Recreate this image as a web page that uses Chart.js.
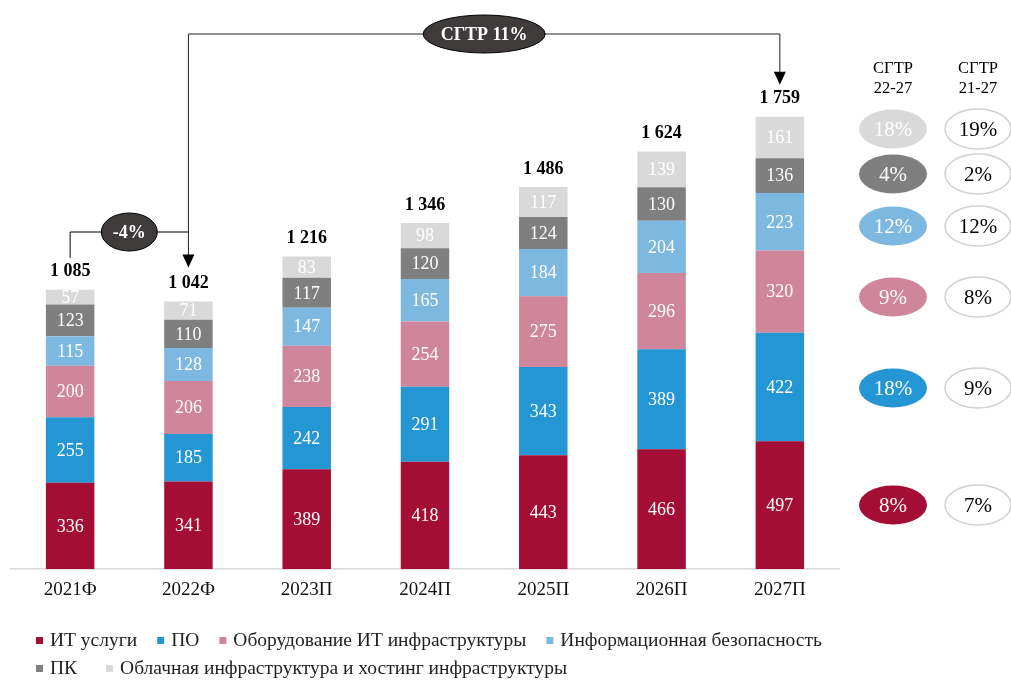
<!DOCTYPE html>
<html><head><meta charset="utf-8">
<script src="https://cdn.jsdelivr.net/npm/chart.js@4/dist/chart.umd.min.js"></script>
<style>html,body{margin:0;padding:0;background:#fff}#wrap{width:1011px;height:682px;position:relative}</style>
</head><body><div id="wrap"><canvas id="c" width="1011" height="682"></canvas></div>
<script>
const categories = ['2021Ф','2022Ф','2023П','2024П','2025П','2026П','2027П'];
const seriesNames = ['ИТ услуги','ПО','Оборудование ИТ инфраструктуры','Информационная безопасность','ПК','Облачная инфраструктура и хостинг инфраструктуры'];
const itServices = [336,341,389,418,443,466,497];
const software = [255,185,242,291,343,389,422];
const hardware = [200,206,238,254,275,296,320];
const infoSec = [115,128,147,165,184,204,223];
const pc = [123,110,117,120,124,130,136];
const cloud = [57,71,83,98,117,139,161];
const totals = [1085,1042,1216,1346,1486,1624,1759];
const cagr2227 = ['8%','18%','9%','12%','4%','18%'];
const cagr2127 = ['7%','9%','8%','12%','2%','19%'];
const cagrHeader = ['СГТР','22-27','21-27'];
const cagrTotal = 'СГТР 11%';
const change2122 = '-4%';

const colors = ['#A50E34','#2596D4','#D0869A','#7DB8E0','#7F7F7F','#D9D9D9'];
const seriesData = [itServices, software, hardware, infoSec, pc, cloud];
const cagrY = [505, 388, 297, 226, 174, 129];
const FONT = '"Liberation Serif", "Times New Roman", serif';

function fmt(n){ return String(n).replace(/\B(?=(\d{3})+(?!\d))/g, ' '); }

function ellipse(ctx, cx, cy, rx, ry, fill, stroke, lw){
  ctx.beginPath();
  ctx.ellipse(cx, cy, rx, ry, 0, 0, Math.PI*2);
  if (fill){ ctx.fillStyle = fill; ctx.fill(); }
  if (stroke){ ctx.strokeStyle = stroke; ctx.lineWidth = lw || 1; ctx.stroke(); }
}
function arrowDown(ctx, x, tipY){
  ctx.beginPath();
  ctx.moveTo(x, tipY);
  ctx.lineTo(x-6, tipY-13);
  ctx.lineTo(x+6, tipY-13);
  ctx.closePath();
  ctx.fillStyle = '#000';
  ctx.fill();
}

const overlay = {
  id: 'overlay',
  afterDatasetsDraw(chart){
    const ctx = chart.ctx;
    ctx.save();
    ctx.textAlign = 'center';
    ctx.textBaseline = 'middle';
    ctx.font = '18px ' + FONT;
    ctx.fillStyle = '#fff';
    chart.data.datasets.forEach((ds, di) => {
      const meta = chart.getDatasetMeta(di);
      meta.data.forEach((el, i) => {
        const y = (el.y + el.base) / 2;
        ctx.fillText(String(ds.data[i]), el.x, y + 1);
      });
    });
    const topMeta = chart.getDatasetMeta(chart.data.datasets.length - 1);
    const labelY = [];
    ctx.font = 'bold 18px ' + FONT;
    ctx.fillStyle = '#000';
    topMeta.data.forEach((el, i) => {
      const y = el.y - 18;
      labelY.push(y);
      ctx.fillText(fmt(totals[i]), el.x, y);
    });
    const xs = topMeta.data.map(e => e.x);
    const x0 = xs[0], x1 = xs[1], x6 = xs[xs.length-1];
    const topY = 34;
    ctx.strokeStyle = '#222';
    ctx.lineWidth = 1;
    ctx.beginPath();
    ctx.moveTo(x1, labelY[1] - 28);
    ctx.lineTo(x1, topY);
    ctx.lineTo(x6, topY);
    ctx.lineTo(x6, labelY[6] - 26);
    ctx.stroke();
    arrowDown(ctx, x1, labelY[1] - 16);
    arrowDown(ctx, x6, labelY[6] - 14);
    ellipse(ctx, (x1 + x6)/2, topY, 61, 19, '#3f3b3b', '#000', 1);
    ctx.font = 'bold 18px ' + FONT;
    ctx.fillStyle = '#fff';
    ctx.fillText(cagrTotal, (x1 + x6)/2, topY + 1);
    const midY = 232;
    ctx.beginPath();
    ctx.moveTo(x0, labelY[0] - 14);
    ctx.lineTo(x0, midY);
    ctx.lineTo(x1, midY);
    ctx.stroke();
    ellipse(ctx, (x0 + x1)/2, midY, 28, 19, '#3f3b3b', '#000', 1);
    ctx.font = 'bold 18px ' + FONT;
    ctx.fillStyle = '#fff';
    ctx.fillText(change2122, (x0 + x1)/2, midY + 1);
    const c1 = 893, c2 = 978;
    ctx.font = '16.5px ' + FONT;
    ctx.fillStyle = '#000';
    ctx.fillText(cagrHeader[0], c1, 69);
    ctx.fillText(cagrHeader[1], c1, 89);
    ctx.fillText(cagrHeader[0], c2, 69);
    ctx.fillText(cagrHeader[2], c2, 89);
    ctx.font = '21px ' + FONT;
    for (let s = 0; s < seriesNames.length; s++){
      const y = cagrY[s];
      ellipse(ctx, c1, y, 34, 19.5, colors[s]);
      ctx.fillStyle = '#fff';
      ctx.fillText(cagr2227[s], c1, y + 1);
      ellipse(ctx, c2, y, 33, 20, '#fff', '#d0d0d0', 1.5);
      ctx.fillStyle = '#000';
      ctx.fillText(cagr2127[s], c2, y + 1);
    }
    ctx.font = '19.5px ' + FONT;
    ctx.textAlign = 'left';
    const rows = [[0,1,2,3],[4,5]];
    const rowY = [641, 669];
    const rowGap = [20, 29];
    rows.forEach((row, r) => {
      let x = 36;
      row.forEach(si => {
        ctx.fillStyle = colors[si];
        ctx.fillRect(x, rowY[r] - 4, 7, 7);
        x += 14;
        ctx.fillStyle = '#222';
        ctx.fillText(seriesNames[si], x, rowY[r]);
        x += ctx.measureText(seriesNames[si]).width + rowGap[r];
      });
    });
    ctx.restore();
  }
};

new Chart(document.getElementById('c'), {
  type: 'bar',
  data: {
    labels: categories,
    datasets: seriesNames.map((name, i) => ({
      label: name,
      data: seriesData[i],
      backgroundColor: colors[i],
      borderWidth: 0,
      categoryPercentage: 1,
      barPercentage: 0.41
    }))
  },
  options: {
    responsive: false,
    animation: false,
    devicePixelRatio: 1,
    layout: { padding: { left: 11, right: 172, top: 29, bottom: 72 } },
    plugins: { legend: { display: false }, tooltip: { enabled: false } },
    scales: {
      x: {
        stacked: true,
        grid: { display: false, drawTicks: false },
        border: { display: true, color: '#d9d9d9', width: 1.5 },
        ticks: { font: { family: FONT, size: 19 }, color: '#111', padding: 9 }
      },
      y: {
        stacked: true,
        display: false,
        min: 0,
        max: 2100
      }
    }
  },
  plugins: [overlay]
});
</script>
</body></html>
